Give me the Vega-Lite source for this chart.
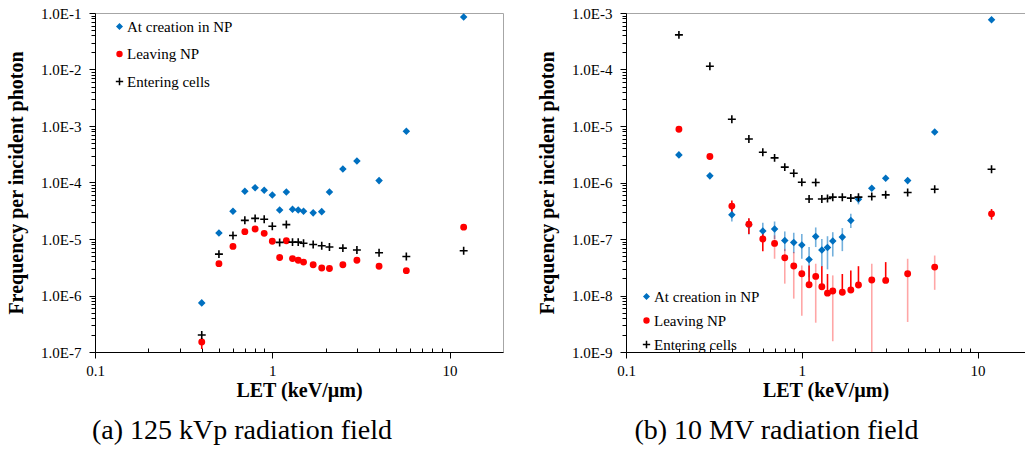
{
  "$schema": "https://vega.github.io/schema/vega-lite/v6.json",
  "padding": {"left": 6, "top": 5, "right": 0, "bottom": 0},
  "background": "white",
  "config": {
    "font": "'Liberation Serif', serif",
    "view": {"stroke": "#a6a6a6", "strokeWidth": 1},
    "axis": {"grid": false, "domainColor": "black", "tickColor": "black", "labelFont": "'Liberation Serif', serif", "labelFontSize": 15, "labelColor": "black", "titleFont": "'Liberation Serif', serif", "titleFontSize": 20, "titleFontWeight": "bold", "titleColor": "black", "labelOverlap": false, "labelFlush": false, "labelBound": false},
    "legend": {"title": null, "labelFont": "'Liberation Serif', serif", "labelFontSize": 15, "labelColor": "black", "padding": 0, "labelOffset": 0, "symbolSize": 24, "symbolStrokeWidth": 1.5},
    "title": {"font": "'Liberation Serif', serif"},
    "concat": {"spacing": 33}
  },
  "datasets": {
    "kvp": [
      {"let": 0.4, "series": "At creation in NP", "freq": 7.4e-7},
      {"let": 0.5, "series": "At creation in NP", "freq": 1.28e-5},
      {"let": 0.6, "series": "At creation in NP", "freq": 3.1e-5},
      {"let": 0.7, "series": "At creation in NP", "freq": 7.0e-5},
      {"let": 0.8, "series": "At creation in NP", "freq": 8.1e-5},
      {"let": 0.9, "series": "At creation in NP", "freq": 7.3e-5},
      {"let": 1.0, "series": "At creation in NP", "freq": 6.0e-5},
      {"let": 1.1, "series": "At creation in NP", "freq": 3.26e-5},
      {"let": 1.2, "series": "At creation in NP", "freq": 6.8e-5},
      {"let": 1.3, "series": "At creation in NP", "freq": 3.35e-5},
      {"let": 1.4, "series": "At creation in NP", "freq": 3.25e-5},
      {"let": 1.5, "series": "At creation in NP", "freq": 3.1e-5},
      {"let": 1.7, "series": "At creation in NP", "freq": 2.9e-5},
      {"let": 1.9, "series": "At creation in NP", "freq": 3.05e-5},
      {"let": 2.1, "series": "At creation in NP", "freq": 6.8e-5},
      {"let": 2.5, "series": "At creation in NP", "freq": 1.73e-4},
      {"let": 3.0, "series": "At creation in NP", "freq": 2.4e-4},
      {"let": 4.0, "series": "At creation in NP", "freq": 1.08e-4},
      {"let": 5.7, "series": "At creation in NP", "freq": 8.05e-4},
      {"let": 12, "series": "At creation in NP", "freq": 8.5e-2},
      {"let": 0.4, "series": "Leaving NP", "freq": 1.5e-7, "lo": 1.13e-7, "hi": 1.75e-7},
      {"let": 0.5, "series": "Leaving NP", "freq": 3.66e-6},
      {"let": 0.6, "series": "Leaving NP", "freq": 7.4e-6},
      {"let": 0.7, "series": "Leaving NP", "freq": 1.35e-5},
      {"let": 0.8, "series": "Leaving NP", "freq": 1.5e-5},
      {"let": 0.9, "series": "Leaving NP", "freq": 1.26e-5},
      {"let": 1.0, "series": "Leaving NP", "freq": 9.1e-6},
      {"let": 1.1, "series": "Leaving NP", "freq": 4.7e-6},
      {"let": 1.2, "series": "Leaving NP", "freq": 9.3e-6},
      {"let": 1.3, "series": "Leaving NP", "freq": 4.5e-6},
      {"let": 1.4, "series": "Leaving NP", "freq": 4.2e-6},
      {"let": 1.5, "series": "Leaving NP", "freq": 3.9e-6},
      {"let": 1.7, "series": "Leaving NP", "freq": 3.5e-6},
      {"let": 1.9, "series": "Leaving NP", "freq": 3.07e-6},
      {"let": 2.1, "series": "Leaving NP", "freq": 3.0e-6},
      {"let": 2.5, "series": "Leaving NP", "freq": 3.5e-6},
      {"let": 3.0, "series": "Leaving NP", "freq": 4.2e-6},
      {"let": 4.0, "series": "Leaving NP", "freq": 3.3e-6},
      {"let": 5.7, "series": "Leaving NP", "freq": 2.75e-6},
      {"let": 12, "series": "Leaving NP", "freq": 1.62e-5},
      {"let": 0.4, "series": "Entering cells", "freq": 2.0e-7},
      {"let": 0.5, "series": "Entering cells", "freq": 5.4e-6},
      {"let": 0.6, "series": "Entering cells", "freq": 1.15e-5},
      {"let": 0.7, "series": "Entering cells", "freq": 2.14e-5},
      {"let": 0.8, "series": "Entering cells", "freq": 2.32e-5},
      {"let": 0.9, "series": "Entering cells", "freq": 2.23e-5},
      {"let": 1.0, "series": "Entering cells", "freq": 1.68e-5},
      {"let": 1.1, "series": "Entering cells", "freq": 8.7e-6},
      {"let": 1.2, "series": "Entering cells", "freq": 1.8e-5},
      {"let": 1.3, "series": "Entering cells", "freq": 8.8e-6},
      {"let": 1.4, "series": "Entering cells", "freq": 8.8e-6},
      {"let": 1.5, "series": "Entering cells", "freq": 8.4e-6},
      {"let": 1.7, "series": "Entering cells", "freq": 8.0e-6},
      {"let": 1.9, "series": "Entering cells", "freq": 7.6e-6},
      {"let": 2.1, "series": "Entering cells", "freq": 7.2e-6},
      {"let": 2.5, "series": "Entering cells", "freq": 6.9e-6},
      {"let": 3.0, "series": "Entering cells", "freq": 6.4e-6},
      {"let": 4.0, "series": "Entering cells", "freq": 5.7e-6},
      {"let": 5.7, "series": "Entering cells", "freq": 4.9e-6},
      {"let": 12, "series": "Entering cells", "freq": 6.2e-6}
    ],
    "mv": [
      {"let": 0.2, "series": "At creation in NP", "freq": 3.08e-6},
      {"let": 0.3, "series": "At creation in NP", "freq": 1.31e-6},
      {"let": 0.4, "series": "At creation in NP", "freq": 2.68e-7, "lo": 2.04e-7, "hi": 3.4e-7},
      {"let": 0.5, "series": "At creation in NP", "freq": 1.79e-7, "lo": 1.2e-7, "hi": 2.28e-7},
      {"let": 0.6, "series": "At creation in NP", "freq": 1.38e-7, "lo": 9.8e-8, "hi": 1.94e-7},
      {"let": 0.7, "series": "At creation in NP", "freq": 1.5e-7, "lo": 1.0e-7, "hi": 2.04e-7},
      {"let": 0.8, "series": "At creation in NP", "freq": 9.4e-8, "lo": 6.1e-8, "hi": 1.36e-7},
      {"let": 0.9, "series": "At creation in NP", "freq": 8.7e-8, "lo": 5.6e-8, "hi": 1.29e-7},
      {"let": 1.0, "series": "At creation in NP", "freq": 7.8e-8, "lo": 4.47e-8, "hi": 1.22e-7},
      {"let": 1.1, "series": "At creation in NP", "freq": 4.35e-8, "lo": 2.1e-8, "hi": 7.2e-8},
      {"let": 1.2, "series": "At creation in NP", "freq": 1.11e-7, "lo": 7.2e-8, "hi": 1.6e-7},
      {"let": 1.3, "series": "At creation in NP", "freq": 6.37e-8, "lo": 3.2e-8, "hi": 1.0e-7},
      {"let": 1.4, "series": "At creation in NP", "freq": 7.1e-8, "lo": 2.9e-8, "hi": 1.12e-7},
      {"let": 1.5, "series": "At creation in NP", "freq": 9.2e-8, "lo": 4.9e-8, "hi": 1.32e-7},
      {"let": 1.7, "series": "At creation in NP", "freq": 1.08e-7, "lo": 6.1e-8, "hi": 1.56e-7},
      {"let": 1.9, "series": "At creation in NP", "freq": 2.13e-7, "lo": 1.56e-7, "hi": 2.8e-7},
      {"let": 2.1, "series": "At creation in NP", "freq": 5.07e-7, "lo": 4.1e-7, "hi": 5.9e-7},
      {"let": 2.5, "series": "At creation in NP", "freq": 7.9e-7},
      {"let": 3.0, "series": "At creation in NP", "freq": 1.19e-6},
      {"let": 4.0, "series": "At creation in NP", "freq": 1.08e-6},
      {"let": 5.7, "series": "At creation in NP", "freq": 7.8e-6},
      {"let": 12, "series": "At creation in NP", "freq": 7.6e-4},
      {"let": 0.2, "series": "Leaving NP", "freq": 8.77e-6},
      {"let": 0.3, "series": "Leaving NP", "freq": 2.88e-6},
      {"let": 0.4, "series": "Leaving NP", "freq": 3.82e-7, "lo": 3.0e-7, "hi": 4.8e-7},
      {"let": 0.5, "series": "Leaving NP", "freq": 1.83e-7, "lo": 1.23e-7, "hi": 2.34e-7},
      {"let": 0.6, "series": "Leaving NP", "freq": 1.0e-7, "lo": 6.1e-8, "hi": 1.32e-7},
      {"let": 0.7, "series": "Leaving NP", "freq": 8.35e-8, "lo": 4.47e-8, "hi": 1.16e-7},
      {"let": 0.8, "series": "Leaving NP", "freq": 4.66e-8, "lo": 1.62e-8, "hi": 6.7e-8},
      {"let": 0.9, "series": "Leaving NP", "freq": 3.32e-8, "lo": 8.8e-9, "hi": 5.9e-8},
      {"let": 1.0, "series": "Leaving NP", "freq": 2.43e-8, "lo": 4.4e-9, "hi": 3.4e-8},
      {"let": 1.1, "series": "Leaving NP", "freq": 1.55e-8, "lo": 1.55e-8, "hi": 3.4e-8},
      {"let": 1.2, "series": "Leaving NP", "freq": 2.18e-8, "lo": 3.3e-9, "hi": 3.65e-8},
      {"let": 1.3, "series": "Leaving NP", "freq": 1.43e-8, "lo": 1.43e-8, "hi": 3.3e-8},
      {"let": 1.4, "series": "Leaving NP", "freq": 1.1e-8, "lo": 1.1e-8, "hi": 2.4e-8},
      {"let": 1.5, "series": "Leaving NP", "freq": 1.2e-8, "lo": 1.55e-9, "hi": 2.27e-8},
      {"let": 1.7, "series": "Leaving NP", "freq": 1.14e-8, "lo": 1.14e-8, "hi": 2.4e-8},
      {"let": 1.9, "series": "Leaving NP", "freq": 1.25e-8, "lo": 1.25e-8, "hi": 2.78e-8},
      {"let": 2.1, "series": "Leaving NP", "freq": 1.53e-8, "lo": 1.53e-8, "hi": 3.3e-8},
      {"let": 2.5, "series": "Leaving NP", "freq": 1.88e-8, "lo": 1.0e-9, "hi": 3.65e-8},
      {"let": 3.0, "series": "Leaving NP", "freq": 1.85e-8, "lo": 1.85e-8, "hi": 3.9e-8},
      {"let": 4.0, "series": "Leaving NP", "freq": 2.43e-8, "lo": 3.4e-9, "hi": 4.47e-8},
      {"let": 5.7, "series": "Leaving NP", "freq": 3.18e-8, "lo": 1.26e-8, "hi": 5.1e-8},
      {"let": 12, "series": "Leaving NP", "freq": 2.79e-7, "lo": 2.2e-7, "hi": 3.4e-7},
      {"let": 0.2, "series": "Entering cells", "freq": 4.1e-4},
      {"let": 0.3, "series": "Entering cells", "freq": 1.14e-4},
      {"let": 0.4, "series": "Entering cells", "freq": 1.32e-5},
      {"let": 0.5, "series": "Entering cells", "freq": 5.9e-6},
      {"let": 0.6, "series": "Entering cells", "freq": 3.43e-6},
      {"let": 0.7, "series": "Entering cells", "freq": 2.73e-6},
      {"let": 0.8, "series": "Entering cells", "freq": 1.87e-6},
      {"let": 0.9, "series": "Entering cells", "freq": 1.46e-6},
      {"let": 1.0, "series": "Entering cells", "freq": 1.01e-6},
      {"let": 1.1, "series": "Entering cells", "freq": 5.1e-7},
      {"let": 1.2, "series": "Entering cells", "freq": 1.0e-6},
      {"let": 1.3, "series": "Entering cells", "freq": 5.1e-7},
      {"let": 1.4, "series": "Entering cells", "freq": 5.2e-7},
      {"let": 1.5, "series": "Entering cells", "freq": 5.5e-7},
      {"let": 1.7, "series": "Entering cells", "freq": 5.5e-7},
      {"let": 1.9, "series": "Entering cells", "freq": 5.3e-7},
      {"let": 2.1, "series": "Entering cells", "freq": 5.5e-7},
      {"let": 2.5, "series": "Entering cells", "freq": 5.66e-7},
      {"let": 3.0, "series": "Entering cells", "freq": 6.05e-7},
      {"let": 4.0, "series": "Entering cells", "freq": 6.65e-7},
      {"let": 5.7, "series": "Entering cells", "freq": 7.6e-7},
      {"let": 12, "series": "Entering cells", "freq": 1.72e-6}
    ]
  },
  "hconcat": [
    {
      "width": 408,
      "height": 339,
      "data": {"name": "kvp"},
      "title": {"text": "(a) 125 kVp radiation field", "orient": "bottom", "font": "'Liberation Serif', serif", "fontSize": 28, "fontWeight": "normal", "color": "black", "offset": 17, "dx": -57, "anchor": "middle"},
      "layer": [
        {
          "transform": [{"filter": "isValid(datum.lo)"}],
          "mark": {"type": "rule", "strokeWidth": 1.6},
          "encoding": {
            "x": {"field": "let", "type": "quantitative", "scale": {"type": "log", "domain": [0.1, 20], "nice": false},
              "axis": {"title": "LET (keV/µm)", "values": [0.1,0.2,0.3,0.4,0.5,0.6,0.7,0.8,0.9,1,2,3,4,5,6,7,8,9,10], "labelExpr": "datum.value == 0.1 ? '0.1' : datum.value == 1 ? '1' : datum.value == 10 ? '10' : ''", "tickSize": {"condition": {"test": "abs(log(datum.value)/LN10 - round(log(datum.value)/LN10)) < 0.001", "value": 6}, "value": -4}, "labelPadding": 5, "titlePadding": 2}},
            "y": {"field": "lo", "type": "quantitative", "scale": {"type": "log", "domain": [1e-7, 0.1], "nice": false},
              "axis": {"title": "Frequency per incident photon", "values": [1e-7,2e-7,3e-7,4e-7,5e-7,6e-7,7e-7,8e-7,9e-7,1e-6,2e-6,3e-6,4e-6,5e-6,6e-6,7e-6,8e-6,9e-6,1e-5,2e-5,3e-5,4e-5,5e-5,6e-5,7e-5,8e-5,9e-5,1e-4,2e-4,3e-4,4e-4,5e-4,6e-4,7e-4,8e-4,9e-4,1e-3,2e-3,3e-3,4e-3,5e-3,6e-3,7e-3,8e-3,9e-3,1e-2,2e-2,3e-2,4e-2,5e-2,6e-2,7e-2,8e-2,9e-2,1e-1], "labelExpr": "abs(log(datum.value)/LN10 - round(log(datum.value)/LN10)) < 0.001 ? '1.0E' + round(log(datum.value)/LN10) : ''", "tickSize": {"condition": {"test": "abs(log(datum.value)/LN10 - round(log(datum.value)/LN10)) < 0.001", "value": 6}, "value": 4}, "labelPadding": 8, "titlePadding": 14}},
            "y2": {"field": "hi"},
            "stroke": {"condition": {"test": "datum.series == 'At creation in NP'", "value": "#0070C0"}, "value": "#FF0000"},
            "opacity": {"condition": [{"test": "datum.series == 'At creation in NP'", "value": 0.55}, {"test": "datum.hi / datum.lo < 2.4", "value": 1}], "value": 0.35}
          }
        },
        {
          "mark": {"type": "point", "strokeWidth": 1.6, "size": 28, "opacity": 1},
          "encoding": {
            "x": {"field": "let", "type": "quantitative", "scale": {"type": "log", "domain": [0.1, 20], "nice": false},
              "axis": {"title": "LET (keV/µm)", "values": [0.1,0.2,0.3,0.4,0.5,0.6,0.7,0.8,0.9,1,2,3,4,5,6,7,8,9,10], "labelExpr": "datum.value == 0.1 ? '0.1' : datum.value == 1 ? '1' : datum.value == 10 ? '10' : ''", "tickSize": {"condition": {"test": "abs(log(datum.value)/LN10 - round(log(datum.value)/LN10)) < 0.001", "value": 6}, "value": -4}, "labelPadding": 5, "titlePadding": 2}},
            "y": {"field": "freq", "type": "quantitative", "scale": {"type": "log", "domain": [1e-7, 0.1], "nice": false},
              "axis": {"title": "Frequency per incident photon", "values": [1e-7,2e-7,3e-7,4e-7,5e-7,6e-7,7e-7,8e-7,9e-7,1e-6,2e-6,3e-6,4e-6,5e-6,6e-6,7e-6,8e-6,9e-6,1e-5,2e-5,3e-5,4e-5,5e-5,6e-5,7e-5,8e-5,9e-5,1e-4,2e-4,3e-4,4e-4,5e-4,6e-4,7e-4,8e-4,9e-4,1e-3,2e-3,3e-3,4e-3,5e-3,6e-3,7e-3,8e-3,9e-3,1e-2,2e-2,3e-2,4e-2,5e-2,6e-2,7e-2,8e-2,9e-2,1e-1], "labelExpr": "abs(log(datum.value)/LN10 - round(log(datum.value)/LN10)) < 0.001 ? '1.0E' + round(log(datum.value)/LN10) : ''", "tickSize": {"condition": {"test": "abs(log(datum.value)/LN10 - round(log(datum.value)/LN10)) < 0.001", "value": 6}, "value": 4}, "labelPadding": 8, "titlePadding": 14}},
            "fill": {"field": "series", "type": "nominal", "scale": {"domain": ["At creation in NP", "Leaving NP", "Entering cells"], "range": ["#0070C0", "#FF0000", "#000000"]}, "legend": {"orient": "none", "legendX": 17, "legendY": 6, "rowPadding": 11.5}},
            "stroke": {"field": "series", "type": "nominal", "scale": {"domain": ["At creation in NP", "Leaving NP", "Entering cells"], "range": ["#0070C0", "#FF0000", "#000000"]}, "legend": {"orient": "none", "legendX": 17, "legendY": 6, "rowPadding": 11.5}},
            "shape": {"field": "series", "type": "nominal", "scale": {"domain": ["At creation in NP", "Leaving NP", "Entering cells"], "range": ["diamond", "circle", "M-1.5,0H1.5M0,-1.5V1.5"]}, "legend": {"orient": "none", "legendX": 17, "legendY": 6, "rowPadding": 11.5}}
          }
        }
      ]
    },
    {
      "width": 399,
      "height": 339,
      "data": {"name": "mv"},
      "title": {"text": "(b) 10 MV radiation field", "orient": "bottom", "font": "'Liberation Serif', serif", "fontSize": 28, "fontWeight": "normal", "color": "black", "offset": 17, "dx": -49, "anchor": "middle"},
      "layer": [
        {
          "transform": [{"filter": "isValid(datum.lo)"}],
          "mark": {"type": "rule", "strokeWidth": 1.6},
          "encoding": {
            "x": {"field": "let", "type": "quantitative", "scale": {"type": "log", "domain": [0.1, 18.6], "nice": false},
              "axis": {"title": "LET (keV/µm)", "values": [0.1,0.2,0.3,0.4,0.5,0.6,0.7,0.8,0.9,1,2,3,4,5,6,7,8,9,10], "labelExpr": "datum.value == 0.1 ? '0.1' : datum.value == 1 ? '1' : datum.value == 10 ? '10' : ''", "tickSize": {"condition": {"test": "abs(log(datum.value)/LN10 - round(log(datum.value)/LN10)) < 0.001", "value": 6}, "value": -4}, "labelPadding": 5, "titlePadding": 2}},
            "y": {"field": "lo", "type": "quantitative", "scale": {"type": "log", "domain": [1e-9, 1e-3], "nice": false},
              "axis": {"title": "Frequency per incident photon", "values": [1e-9,2e-9,3e-9,4e-9,5e-9,6e-9,7e-9,8e-9,9e-9,1e-8,2e-8,3e-8,4e-8,5e-8,6e-8,7e-8,8e-8,9e-8,1e-7,2e-7,3e-7,4e-7,5e-7,6e-7,7e-7,8e-7,9e-7,1e-6,2e-6,3e-6,4e-6,5e-6,6e-6,7e-6,8e-6,9e-6,1e-5,2e-5,3e-5,4e-5,5e-5,6e-5,7e-5,8e-5,9e-5,1e-4,2e-4,3e-4,4e-4,5e-4,6e-4,7e-4,8e-4,9e-4,1e-3], "labelExpr": "abs(log(datum.value)/LN10 - round(log(datum.value)/LN10)) < 0.001 ? '1.0E' + round(log(datum.value)/LN10) : ''", "tickSize": {"condition": {"test": "abs(log(datum.value)/LN10 - round(log(datum.value)/LN10)) < 0.001", "value": 6}, "value": 4}, "labelPadding": 8, "titlePadding": 14}},
            "y2": {"field": "hi"},
            "stroke": {"condition": {"test": "datum.series == 'At creation in NP'", "value": "#0070C0"}, "value": "#FF0000"},
            "opacity": {"condition": [{"test": "datum.series == 'At creation in NP'", "value": 0.55}, {"test": "datum.hi / datum.lo < 2.4", "value": 1}], "value": 0.35}
          }
        },
        {
          "mark": {"type": "point", "strokeWidth": 1.6, "size": 28, "opacity": 1},
          "encoding": {
            "x": {"field": "let", "type": "quantitative", "scale": {"type": "log", "domain": [0.1, 18.6], "nice": false},
              "axis": {"title": "LET (keV/µm)", "values": [0.1,0.2,0.3,0.4,0.5,0.6,0.7,0.8,0.9,1,2,3,4,5,6,7,8,9,10], "labelExpr": "datum.value == 0.1 ? '0.1' : datum.value == 1 ? '1' : datum.value == 10 ? '10' : ''", "tickSize": {"condition": {"test": "abs(log(datum.value)/LN10 - round(log(datum.value)/LN10)) < 0.001", "value": 6}, "value": -4}, "labelPadding": 5, "titlePadding": 2}},
            "y": {"field": "freq", "type": "quantitative", "scale": {"type": "log", "domain": [1e-9, 1e-3], "nice": false},
              "axis": {"title": "Frequency per incident photon", "values": [1e-9,2e-9,3e-9,4e-9,5e-9,6e-9,7e-9,8e-9,9e-9,1e-8,2e-8,3e-8,4e-8,5e-8,6e-8,7e-8,8e-8,9e-8,1e-7,2e-7,3e-7,4e-7,5e-7,6e-7,7e-7,8e-7,9e-7,1e-6,2e-6,3e-6,4e-6,5e-6,6e-6,7e-6,8e-6,9e-6,1e-5,2e-5,3e-5,4e-5,5e-5,6e-5,7e-5,8e-5,9e-5,1e-4,2e-4,3e-4,4e-4,5e-4,6e-4,7e-4,8e-4,9e-4,1e-3], "labelExpr": "abs(log(datum.value)/LN10 - round(log(datum.value)/LN10)) < 0.001 ? '1.0E' + round(log(datum.value)/LN10) : ''", "tickSize": {"condition": {"test": "abs(log(datum.value)/LN10 - round(log(datum.value)/LN10)) < 0.001", "value": 6}, "value": 4}, "labelPadding": 8, "titlePadding": 14}},
            "fill": {"field": "series", "type": "nominal", "scale": {"domain": ["At creation in NP", "Leaving NP", "Entering cells"], "range": ["#0070C0", "#FF0000", "#000000"]}, "legend": {"orient": "none", "legendX": 13, "legendY": 276, "rowPadding": 8}},
            "stroke": {"field": "series", "type": "nominal", "scale": {"domain": ["At creation in NP", "Leaving NP", "Entering cells"], "range": ["#0070C0", "#FF0000", "#000000"]}, "legend": {"orient": "none", "legendX": 13, "legendY": 276, "rowPadding": 8}},
            "shape": {"field": "series", "type": "nominal", "scale": {"domain": ["At creation in NP", "Leaving NP", "Entering cells"], "range": ["diamond", "circle", "M-1.5,0H1.5M0,-1.5V1.5"]}, "legend": {"orient": "none", "legendX": 13, "legendY": 276, "rowPadding": 8}}
          }
        }
      ]
    }
  ],
  "resolve": {"scale": {"x": "independent", "y": "independent", "fill": "independent", "stroke": "independent", "shape": "independent"}, "legend": {"fill": "independent", "stroke": "independent", "shape": "independent"}}
}
